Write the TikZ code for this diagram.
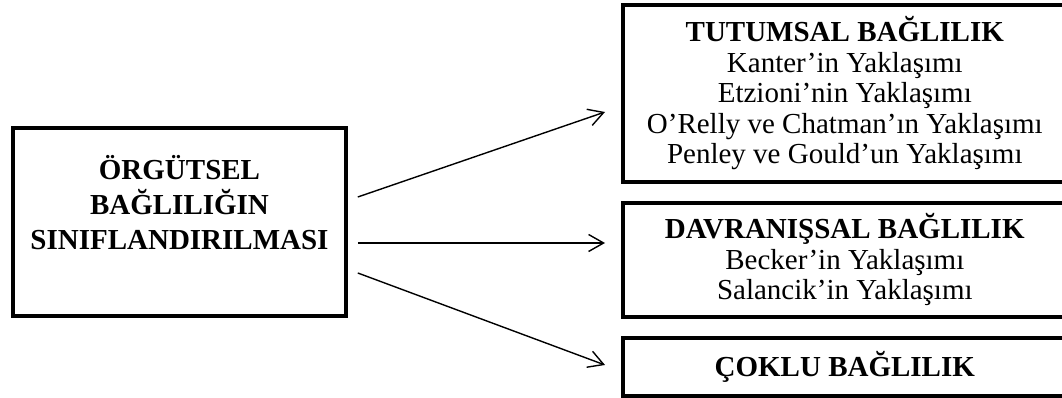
\documentclass[tikz,border=0pt]{standalone}
\usepackage{fontspec}
\setmainfont{Liberation Serif}
\usetikzlibrary{arrows.meta,positioning}

\begin{document}
\begin{tikzpicture}[x=1pt,y=1pt,
box/.style={draw,line width=3.6pt,align=center,font=\fontsize{29}{30.5}\selectfont},
kind/.style={box,minimum width=444,anchor=west},
link/.style={line width=1.4pt,-{Straight Barb[length=15pt,width=17pt]}}]
\useasboundingbox (0,0) rectangle (1062,398);
\node[box,minimum width=333,minimum height=188](sinif) at (179.5,176){};
\node[align=center,font=\fontsize{29}{35}\selectfont\bfseries](sinifyazi) at (179.5,195){ÖRGÜTSEL\\BAĞLILIĞIN\\SINIFLANDIRILMASI};
\node[kind,minimum height=177](tutum) at (621,304.5){\textbf{TUTUMSAL BAĞLILIK}\\Kanter’in Yaklaşımı\\Etzioni’nin Yaklaşımı\\O’Relly ve Chatman’ın Yaklaşımı\\Penley ve Gould’un Yaklaşımı};
\node[kind,minimum height=114](davran) at (621,138){\textbf{DAVRANIŞSAL BAĞLILIK}\\Becker’in Yaklaşımı\\Salancik’in Yaklaşımı};
\node[kind,minimum height=58](coklu) at (621,31){\textbf{ÇOKLU BAĞLILIK}};
\draw[link]([xshift=10,yshift=25]sinif.east)--([xshift=-16,yshift=-18.5]tutum.west);
\draw[link]([xshift=10,yshift=-21]sinif.east)--([xshift=-16,yshift=17]davran.west);
\draw[link]([xshift=10,yshift=-51]sinif.east)--([xshift=-16,yshift=2]coklu.west);
\end{tikzpicture}
\end{document}
